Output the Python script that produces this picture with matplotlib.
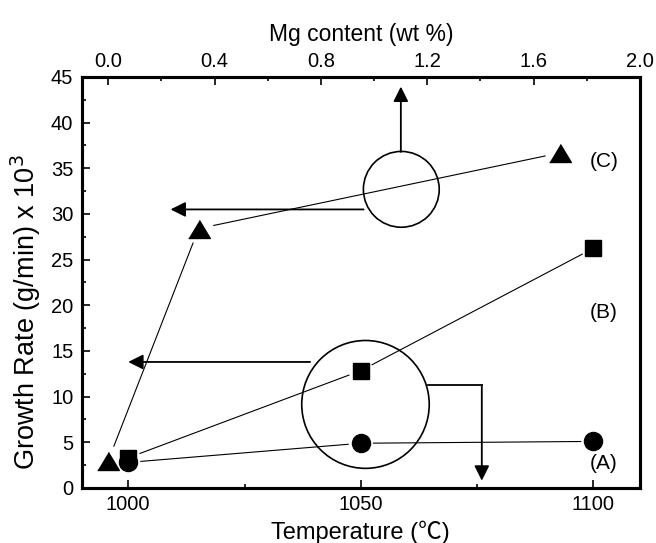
import matplotlib
matplotlib.use("Agg")
import matplotlib.pyplot as plt
from matplotlib.patches import Ellipse
from matplotlib.ticker import MultipleLocator

plt.rcParams['font.family'] = ['Liberation Sans', 'Noto Sans CJK JP', 'DejaVu Sans']

# ---- data ----
temps = [1000, 1050, 1100]
rate_A = [2.8, 4.9, 5.1]        # circles
rate_B = [3.3, 12.85, 26.25]    # squares
mg_C = [0.0, 0.34, 1.70]        # triangles (top axis)
rate_C = [3.0, 28.4, 36.7]
series_labels = ['(A)', '(B)', '(C)']
label_y = [2.7, 19.2, 35.8]
yticks = list(range(0, 46, 5))
xticks_T = [1000, 1050, 1100]
xticks_Mg = [0.0, 0.4, 0.8, 1.2, 1.6, 2.0]

fig = plt.figure(figsize=(6.56, 5.43), dpi=100)
ax = fig.add_axes([0.1245, 0.1013, 0.8511, 0.7569])
ax.set_xlim(990, 1110)
ax.set_ylim(0, 45)
ax2 = ax.twiny()
ax2.set_xlim(-0.1, 2.0)

def connect(axis, xs, ys, sA, sB):
    for i in range(len(xs) - 1):
        axis.annotate('', xy=(xs[i + 1], ys[i + 1]), xytext=(xs[i], ys[i]),
                      arrowprops=dict(arrowstyle='-', lw=0.8, color='black',
                                      shrinkA=sA, shrinkB=sB))

connect(ax, temps, rate_A, 9, 9)
connect(ax, temps, rate_B, 9, 9)
connect(ax2, mg_C, rate_C, 11, 11)

ax.plot(temps, rate_A, 'o', ms=13, color='black', ls='none')
ax.plot(temps, rate_B, 's', ms=11, color='black', ls='none')
tri = [(-1, -0.83), (1, -0.83), (0, 0.83)]
ax2.plot(mg_C, rate_C, marker=tri, ms=15.6, color='black', ls='none')

for lab, yv in zip(series_labels, label_y):
    ax.text(1102.2, yv, lab, fontsize=15, ha='center', va='center')

# highlight circles
ax.add_patch(Ellipse((1051.0, 9.15), 27.4, 14.0, fill=False, lw=1.2, ec='black'))
ax.add_patch(Ellipse((1058.7, 32.7), 16.3, 8.3, fill=False, lw=1.2, ec='black'))

ap = dict(arrowstyle='-|>,head_length=0.9,head_width=0.45', lw=1.3, color='black',
          shrinkA=0, shrinkB=0)
ax.annotate('', xy=(1000, 13.8), xytext=(1039.1, 13.8), arrowprops=ap)
ax.annotate('', xy=(1009.1, 30.5), xytext=(1050.6, 30.5), arrowprops=ap)
ax.annotate('', xy=(1058.6, 43.95), xytext=(1058.6, 36.8), arrowprops=ap)
ax.plot([1064.5, 1076.0], [11.28, 11.28], color='black', lw=1.3)
ax.annotate('', xy=(1076.0, 0.8), xytext=(1076.0, 11.28), arrowprops=ap)

# axes styling
ax.set_yticks(yticks)
ax.yaxis.set_minor_locator(MultipleLocator(2.5))
ax.set_xticks(xticks_T)
ax.xaxis.set_minor_locator(MultipleLocator(25))
ax2.set_xticks(xticks_Mg)
ax2.set_xticklabels([f'{v:.1f}' for v in xticks_Mg])
ax2.xaxis.set_minor_locator(MultipleLocator(0.2))

ax.tick_params(axis='both', which='both', direction='in', labelsize=14.5, width=1.2)
ax.tick_params(axis='both', which='major', length=6)
ax.tick_params(axis='both', which='minor', length=3)
ax.tick_params(axis='x', pad=5)
ax.tick_params(axis='y', pad=6)
ax.tick_params(right=False, top=False)
ax2.tick_params(axis='x', which='both', direction='in', labelsize=14.5, width=1.2, pad=4)
ax2.tick_params(axis='x', which='major', length=6)
ax2.tick_params(axis='x', which='minor', length=3)

for a in (ax, ax2):
    for s in a.spines.values():
        s.set_linewidth(2.2)

ax.set_xlabel('Temperature (℃)', fontsize=17, labelpad=5)
ax.set_ylabel('Growth Rate (g/min) x 10$^3$', fontsize=19.5)
ax.yaxis.set_label_coords(-0.069, 0.428)
ax2.set_xlabel('Mg content (wt %)', fontsize=16.5, labelpad=8)

fig.savefig('out.png', dpi=100)
